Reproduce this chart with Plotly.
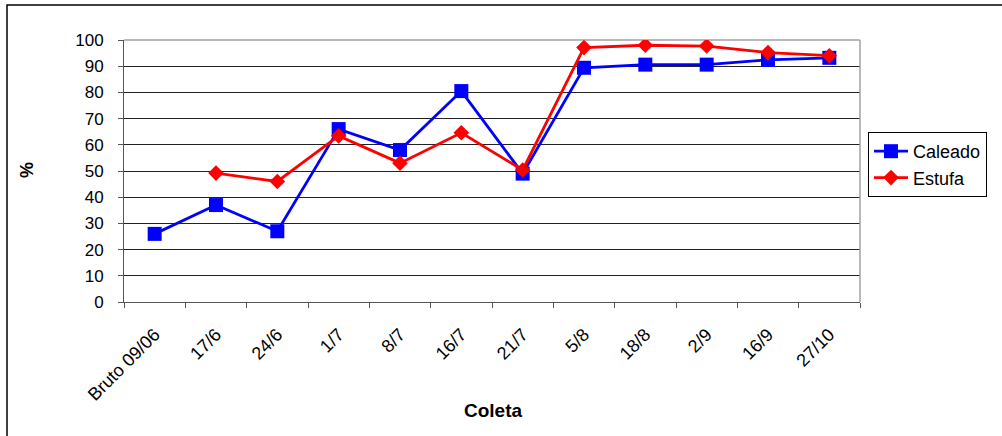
import plotly.graph_objects as go

# Sampling dates (x categories)
coletas = ["Bruto 09/06", "17/6", "24/6", "1/7", "8/7", "16/7", "21/7",
           "5/8", "18/8", "2/9", "16/9", "27/10"]

# Percentage per treatment
caleado = [26, 37, 27, 66, 58, 80.5, 49, 89.4, 90.6, 90.6, 92.4, 93.2]
estufa = [None, 49.2, 46, 63.4, 53, 64.6, 50.4, 97.1, 98, 97.7, 95.2, 94]

FONT = "Liberation Sans, Arial, sans-serif"

fig = go.Figure()
fig.add_trace(go.Scatter(
    x=coletas, y=caleado, name="Caleado", mode="lines+markers",
    line=dict(color="#0000FF", width=2.8),
    marker=dict(symbol="square", size=14, color="#0000FF"),
))
fig.add_trace(go.Scatter(
    x=coletas, y=estufa, name="Estufa", mode="lines+markers",
    line=dict(color="#FF0000", width=2.8),
    marker=dict(symbol="diamond", size=12, color="#FF0000"),
))

# plot-area geometry in pixels
L, R, T, B = 124, 860, 40, 302
W, H = 1002, 436
pw, ph = R - L, B - T

def px_x(x):
    return (x - L) / pw

def px_y(y):
    return (B - y) / ph

fig.update_layout(
    width=W, height=H,
    margin=dict(l=L, r=W - R, t=T, b=H - B, autoexpand=False),
    paper_bgcolor="white", plot_bgcolor="white",
    font=dict(family=FONT, size=17, color="black"),
    showlegend=True,
    legend=dict(
        x=px_x(868), y=px_y(132), xanchor="left", yanchor="top",
        bordercolor="black", borderwidth=1, bgcolor="white",
        font=dict(family=FONT, size=18, color="black"),
        itemwidth=34, tracegroupgap=0,
    ),
    xaxis=dict(
        type="category", range=[-0.5, 11.5],
        showline=True, linecolor="#555", linewidth=1,
        ticks="outside", ticklen=5, tickcolor="#555", tickson="boundaries",
        tickangle=-45, showgrid=False,
        tickfont=dict(family=FONT, size=18, color="black"),
        ticklabelstandoff=14,
    ),
    yaxis=dict(
        range=[0, 100], dtick=10, tick0=0,
        showline=True, linecolor="#555", linewidth=1,
        ticks="outside", ticklen=5, tickcolor="#555",
        showgrid=True, gridcolor="#222", gridwidth=1,
        zeroline=False,
        tickfont=dict(family=FONT, size=17, color="black"),
        ticklabelstandoff=11,
    ),
    annotations=[
        dict(text="<b>Coleta</b>", xref="paper", yref="paper",
             x=px_x(493), y=px_y(410), xanchor="center", yanchor="middle",
             showarrow=False, font=dict(family=FONT, size=19, color="black")),
        dict(text="<b>%</b>", xref="paper", yref="paper",
             x=px_x(27), y=px_y(170), xanchor="center", yanchor="middle",
             textangle=-90, showarrow=False,
             font=dict(family=FONT, size=18, color="black")),
    ],
    shapes=[
        # outer chart frame
        dict(type="rect", xref="paper", yref="paper",
             x0=px_x(7), x1=px_x(1100), y0=px_y(600), y1=px_y(5),
             line=dict(color="black", width=1.5), fillcolor="rgba(0,0,0,0)",
             layer="below"),
        # plot-area right and top border
        dict(type="line", xref="paper", yref="paper",
             x0=1, x1=1, y0=0, y1=1,
             line=dict(color="#A0A0A0", width=1.5)),
        dict(type="line", xref="paper", yref="paper",
             x0=0, x1=1, y0=1, y1=1,
             line=dict(color="#A0A0A0", width=1.5), layer="below"),
    ],
)

fig.write_html("out.html")
